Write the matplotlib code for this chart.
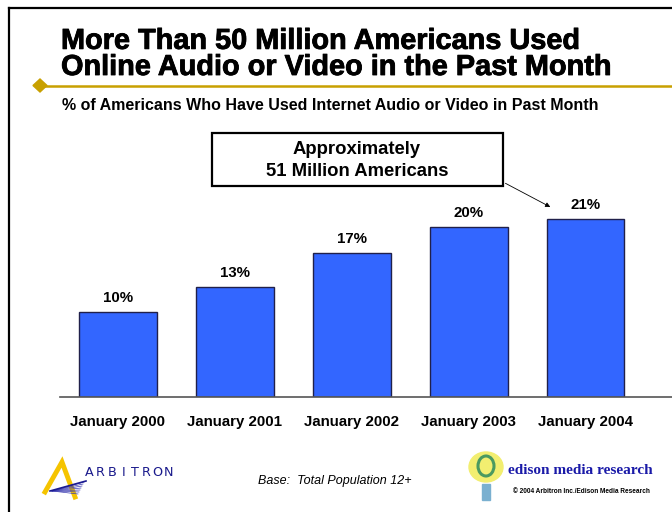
import matplotlib.pyplot as plt
from matplotlib.patches import Polygon, Ellipse, Rectangle
from matplotlib.lines import Line2D
import matplotlib.patheffects as pe

plt.rcParams['font.family'] = ['Liberation Sans', 'DejaVu Sans']

# survey results
years = ["January 2000", "January 2001", "January 2002", "January 2003", "January 2004"]
pct = [10, 13, 17, 20, 21]

W, H = 672, 512
fig = plt.figure(figsize=(W / 100, H / 100), dpi=100)


def fx(px):
    return px / W


def fy(py):
    return 1 - py / H


# slide frame
fig.add_artist(Line2D([fx(9), fx(9)], [fy(8), 0], color='black', lw=1.6))
fig.add_artist(Line2D([fx(9), 1], [fy(8), fy(8)], color='black', lw=1.6))

# title and gold rule
fig.text(fx(61), fy(75), "More Than 50 Million Americans Used\nOnline Audio or Video in the Past Month",
         fontsize=20.8, fontweight='bold', va='baseline', ha='left', linespacing=0.915,
         path_effects=[pe.withStroke(linewidth=0.6, foreground='black')])
gold = '#C8A000'
fig.add_artist(Line2D([fx(40), 1], [fy(85.5), fy(85.5)], color=gold, lw=1.8))
fig.add_artist(Polygon([[fx(33), fy(85.5)], [fx(40), fy(79)], [fx(47), fy(85.5)], [fx(40), fy(92)]],
                       closed=True, color=gold, transform=fig.transFigure))
fig.text(fx(62), fy(106), "% of Americans Who Have Used Internet Audio or Video in Past Month",
         fontsize=11.5, fontweight='bold', va='center', ha='left')

# bar chart
ax = fig.add_axes([fx(60), fy(397), 1 - fx(60), fy(184.5) - fy(397)])
x = range(len(years))
ax.bar(x, pct, width=0.667, color='#3366FF', edgecolor='#20204a', linewidth=1.0)
for i, v in zip(x, pct):
    ax.annotate(f"{v}%", (i, v), xytext=(0, 5), textcoords='offset points',
                ha='center', va='bottom', fontsize=10.8, fontweight='bold')
ax.set_xlim(-0.496, 4.74)
ax.set_ylim(0, 25)
ax.set_xticks(list(x))
ax.set_xticklabels(years, fontsize=10.8, fontweight='bold')
ax.tick_params(axis='x', length=0, pad=13)
ax.set_yticks([])
for s in ['top', 'right', 'left']:
    ax.spines[s].set_visible(False)
ax.spines['bottom'].set_color('#555555')
ax.spines['bottom'].set_linewidth(1.2)

# callout box
fig.add_artist(Rectangle((fx(212), fy(186)), fx(503) - fx(212), fy(133) - fy(186),
                         transform=fig.transFigure, fill=False, edgecolor='black', lw=1.6))
fig.text(fx(357), fy(150), "Approximately", fontsize=13.3,
         fontweight='bold', ha='center', va='center')
fig.text(fx(357), fy(172), "51 Million Americans", fontsize=13.3,
         fontweight='bold', ha='center', va='center')
ax.annotate("", xy=(4 - 0.28, 21 + 1.2), xycoords='data',
            xytext=(fx(503), fy(182)), textcoords='figure fraction',
            arrowprops=dict(arrowstyle='-|>', color='black', lw=0.6, mutation_scale=7))

# Arbitron logo
fig.add_artist(Line2D([fx(45), fx(62), fx(75)], [fy(492), fy(462), fy(497)],
                      color='#F5C400', lw=3.5, solid_joinstyle='miter'))
for k in range(7):
    fig.add_artist(Line2D([fx(52), fx(84 - k)], [fy(491), fy(482 + k * 2)], color='#3a3ab0', lw=0.5))
fig.add_artist(Line2D([fx(50), fx(86)], [fy(491), fy(481)], color='#1a1a90', lw=1.2))
for j, ch in enumerate("ARBITRON"):
    fig.text(fx(89 + j * 11.4), fy(472.5), ch, fontsize=9.2, color='#1a1a8c',
             family='DejaVu Sans', ha='center', va='center')

fig.text(fx(335), fy(481), "Base:  Total Population 12+", fontsize=9, style='italic',
         ha='center', va='center')

# Edison logo
fig.add_artist(Ellipse((fx(486), fy(467)), fx(34), 30 / H, color='#F2EE70',
                       transform=fig.transFigure))
fig.add_artist(Ellipse((fx(486), fy(466)), fx(16), 20 / H, fill=False, edgecolor='#4a9a60',
                       lw=2.2, transform=fig.transFigure))
fig.add_artist(Rectangle((fx(482), fy(500)), fx(8), 16 / H, color='#7ab0d0',
                         transform=fig.transFigure))
fig.text(fx(508), fy(470), "edison media research", fontsize=11, fontweight='bold',
         family='Liberation Serif', color='#1a1aa8', ha='left', va='center')
fig.text(fx(513), fy(491.5), "\u00a9 2004 Arbitron Inc./Edison Media Research", fontsize=4.7,
         fontweight='bold', ha='left', va='center')

fig.savefig("out.png", dpi=100)
